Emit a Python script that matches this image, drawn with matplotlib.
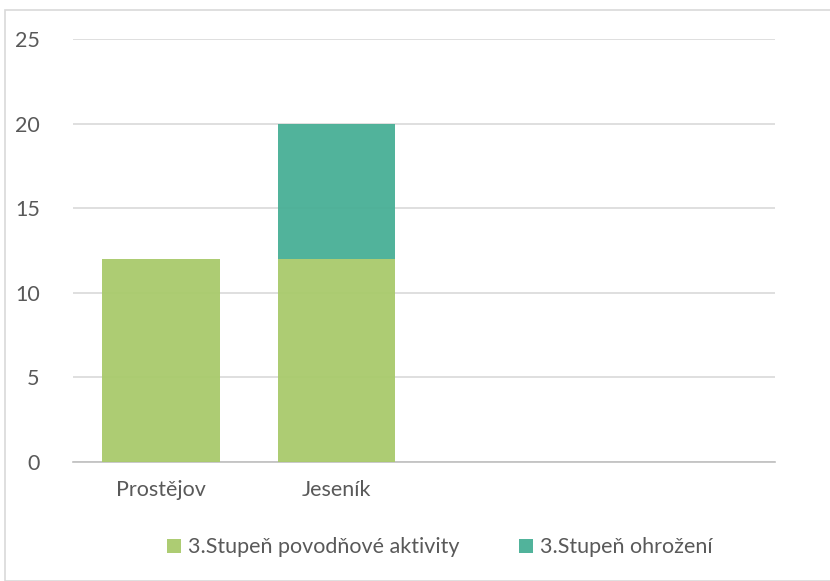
import matplotlib.pyplot as plt
from matplotlib.patches import Rectangle
import numpy as np

categories = ['Prostějov', 'Jeseník', '', '']
aktivity = [12, 12, 0, 0]
ohrozeni = [0, 8, 0, 0]
series_names = ['3.Stupeň povodňové aktivity', '3.Stupeň ohrožení']
colors = ['#A9CA6B', '#48AF96']

plt.rcParams['font.family'] = ['Lato', 'DejaVu Sans']

fig = plt.figure(figsize=(8.3, 5.81), dpi=100)
ax = fig.add_axes([0.088, 0.205, 0.846, 0.728])

# chart border
fig.patches.append(Rectangle((5 / 830, 0), 1, 1 - 10 / 581, transform=fig.transFigure,
                             fill=False, edgecolor='#D9D9D9', linewidth=1.2))

x = np.arange(len(categories))
ax.bar(x, aktivity, width=0.67, color=colors[0], alpha=0.95, label=series_names[0], zorder=3)
ax.bar(x, ohrozeni, width=0.67, bottom=aktivity, color=colors[1], alpha=0.95,
       label=series_names[1], zorder=3)

ax.set_xlim(-0.5, 3.5)
ax.set_ylim(0, 25)
ax.set_yticks(np.arange(0, 26, 5))
ax.yaxis.grid(True, color='#D9D9D9', linewidth=1.2, zorder=0)
ax.set_axisbelow(True)
for s in ['top', 'right', 'left']:
    ax.spines[s].set_visible(False)
ax.spines['bottom'].set_color('#BFBFBF')
ax.spines['bottom'].set_linewidth(1.2)

ax.set_xticks(x)
ax.set_xticklabels(categories, fontsize=15.5, color='#595959')
ax.tick_params(axis='x', length=0, pad=13)
ax.tick_params(axis='y', length=0, pad=24, labelsize=15.5, labelcolor='#595959')

fig.legend(loc='center', bbox_to_anchor=(0.53, 0.058), ncol=2, frameon=False,
           fontsize=15.5, labelcolor='#595959', handlelength=0.65, handleheight=0.65,
           handletextpad=0.3, columnspacing=2.8)

fig.savefig('out.png', dpi=100)
